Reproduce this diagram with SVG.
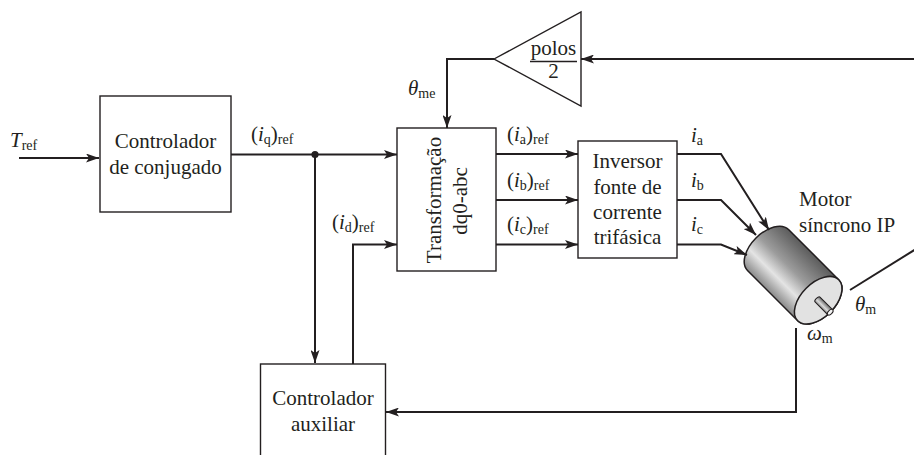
<svg xmlns="http://www.w3.org/2000/svg" width="914" height="455" viewBox="0 0 914 455">
  <defs>
    <style>
      .box { fill: #ffffff; stroke: #231f20; stroke-width: 1.4; }
      .wire { fill: none; stroke: #231f20; stroke-width: 2; }
      .arr { marker-end: url(#ah); }
      .t { font-family: "Liberation Serif", "Times New Roman", serif; font-size: 21px; fill: #231f20; }
      .c { text-anchor: middle; }
      .i { font-style: italic; }
      .s { font-size: 14px; font-style: normal; }
    </style>
    <marker id="ah" viewBox="0 0 13 9" refX="13" refY="4.5" markerWidth="13" markerHeight="9" markerUnits="userSpaceOnUse" orient="auto">
      <path d="M0,0 L13,4.5 L0,9 L3,4.5 Z" fill="#231f20"/>
    </marker>
    <linearGradient id="bodyGrad" gradientUnits="userSpaceOnUse" x1="0" y1="-29" x2="0" y2="29">
      <stop offset="0" stop-color="#5c5c5c"/>
      <stop offset="0.45" stop-color="#9c9c9c"/>
      <stop offset="0.72" stop-color="#e4e4e4"/>
      <stop offset="1" stop-color="#8a8a8a"/>
    </linearGradient>
    <linearGradient id="shaftGrad" gradientUnits="userSpaceOnUse" x1="0" y1="-3.5" x2="0" y2="3.5">
      <stop offset="0" stop-color="#6a6a6a"/>
      <stop offset="0.6" stop-color="#d8d8d8"/>
      <stop offset="1" stop-color="#909090"/>
    </linearGradient>
  </defs>

  <rect width="914" height="455" fill="#ffffff"/>

  <!-- blocks -->
  <g id="torque-controller">
    <rect class="box" x="100" y="96" width="131" height="116"/>
    <text class="t c" x="165.5" y="148">Controlador</text>
    <text class="t c" x="165.5" y="174">de conjugado</text>
  </g>

  <g id="aux-controller">
    <rect class="box" x="260.5" y="364" width="125" height="100"/>
    <text class="t c" x="323" y="405">Controlador</text>
    <text class="t c" x="323" y="431">auxiliar</text>
  </g>

  <g id="dq0-abc">
    <rect class="box" x="397" y="128" width="99" height="143"/>
    <text class="t c" transform="translate(441,200) rotate(-90)">Transformação</text>
    <text class="t c" transform="translate(467,201) rotate(-90)">dq0-abc</text>
  </g>

  <g id="inverter">
    <rect class="box" x="578" y="141" width="99" height="117"/>
    <text class="t c" x="627.5" y="168">Inversor</text>
    <text class="t c" x="627.5" y="194">fonte de</text>
    <text class="t c" x="627.5" y="219">corrente</text>
    <text class="t c" x="627.5" y="244">trifásica</text>
  </g>

  <g id="pole-gain">
    <polygon class="box" points="494,59 581,12 581,106"/>
    <text class="t c" x="553.5" y="55">polos</text>
    <line x1="530" y1="61.5" x2="577" y2="61.5" stroke="#231f20" stroke-width="1.5"/>
    <text class="t c" x="553.5" y="78">2</text>
  </g>

  <g id="motor">
    <g transform="translate(768,250) rotate(45)">
      <path d="M0,-29 L71,-29 A17,29 0 0 1 71,29 L0,29 A17,29 0 0 1 0,-29 Z" fill="url(#bodyGrad)" stroke="#231f20" stroke-width="1.5"/>
      <ellipse cx="71" cy="0" rx="17" ry="29" fill="#e2e2e2" stroke="#231f20" stroke-width="1.5"/>
      <path d="M70,-3.5 L88,-3.5 L88,3.5 L70,3.5 A1.5,3.5 0 0 1 70,-3.5 Z" fill="url(#shaftGrad)" stroke="#231f20" stroke-width="1"/>
      <ellipse cx="88" cy="0" rx="2" ry="3.5" fill="#f4f4f4" stroke="#231f20" stroke-width="1"/>
    </g>
    <text class="t" x="799" y="206">Motor</text>
    <text class="t" x="799" y="232">síncrono IP</text>
  </g>

  <!-- connectors -->
  <g id="connectors">
    <path class="wire arr" d="M19,158 H99"/>
    <path class="wire arr" d="M231,154.5 H397"/>
    <path class="wire arr" d="M315,154.5 V363"/>
    <circle cx="315" cy="154.5" r="3.6" fill="#231f20"/>
    <path class="wire arr" d="M353,364 V244.5 H397"/>
    <path class="wire arr" d="M494,59 H447 V128"/>
    <path class="wire arr" d="M914,59 H581"/>
    <path class="wire arr" d="M496,154 H578"/>
    <path class="wire arr" d="M496,200 H578"/>
    <path class="wire arr" d="M496,244.5 H578"/>
    <path class="wire arr" d="M677,154 H721 L769,230"/>
    <path class="wire arr" d="M677,200 H721 L756,235"/>
    <path class="wire arr" d="M677,244.5 H721 L747,255"/>
    <path class="wire arr" d="M796,328 V412 H386"/>
    <path class="wire" d="M850,290 L916,249"/>
  </g>

  <!-- signal labels -->
  <g id="labels">
    <text class="t" x="10" y="147"><tspan class="i">T</tspan><tspan class="s" dy="3">ref</tspan></text>
    <text class="t" x="251" y="141">(<tspan class="i">i</tspan><tspan class="s" dy="3">q</tspan><tspan dy="-3">)</tspan><tspan class="s" dy="3">ref</tspan></text>
    <text class="t" x="408" y="95"><tspan class="i">θ</tspan><tspan class="s" dy="3">me</tspan></text>
    <text class="t" x="332" y="229">(<tspan class="i">i</tspan><tspan class="s" dy="3">d</tspan><tspan dy="-3">)</tspan><tspan class="s" dy="3">ref</tspan></text>
    <text class="t" x="507" y="141">(<tspan class="i">i</tspan><tspan class="s" dy="3">a</tspan><tspan dy="-3">)</tspan><tspan class="s" dy="3">ref</tspan></text>
    <text class="t" x="507" y="187">(<tspan class="i">i</tspan><tspan class="s" dy="3">b</tspan><tspan dy="-3">)</tspan><tspan class="s" dy="3">ref</tspan></text>
    <text class="t" x="507" y="231">(<tspan class="i">i</tspan><tspan class="s" dy="3">c</tspan><tspan dy="-3">)</tspan><tspan class="s" dy="3">ref</tspan></text>
    <text class="t" x="691" y="142"><tspan class="i">i</tspan><tspan class="s" dy="3">a</tspan></text>
    <text class="t" x="691" y="187"><tspan class="i">i</tspan><tspan class="s" dy="3">b</tspan></text>
    <text class="t" x="691" y="231"><tspan class="i">i</tspan><tspan class="s" dy="3">c</tspan></text>
    <text class="t" x="855" y="311"><tspan class="i">θ</tspan><tspan class="s" dy="3">m</tspan></text>
    <text class="t" x="807" y="340"><tspan class="i">ω</tspan><tspan class="s" dy="3">m</tspan></text>
  </g>
</svg>
